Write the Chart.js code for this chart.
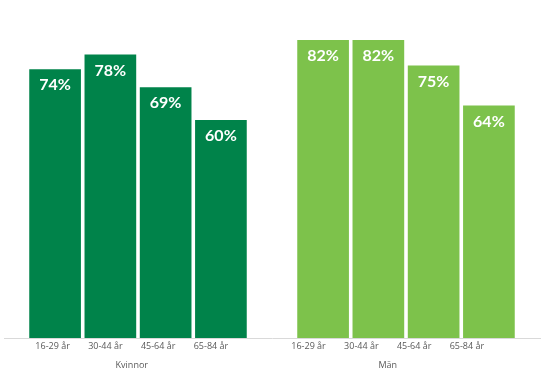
<!DOCTYPE html>
<html>
<head>
<meta charset="utf-8">
<script src="https://cdn.jsdelivr.net/npm/chart.js@4"></script>
<style>
  html, body { margin: 0; padding: 0; background: #fff; }
  #wrap { width: 546px; height: 371px; }
</style>
</head>
<body>
<div id="wrap"><canvas id="chart"></canvas></div>
<script>
// Data
const groups = ["Kvinnor", "Män"];
const ageGroups = ["16-29 år", "30-44 år", "45-64 år", "65-84 år"];
const kvinnor = [74, 78, 69, 60];
const man = [82, 82, 75, 64];

const groupColors = ["#00834A", "#7DC24B"];
// the text row under the bars sits slightly narrower than the bars themselves
const labelScale = 0.955;

const datasets = ageGroups.map((age, i) => ({
  label: age,
  data: [kvinnor[i], man[i]],
  backgroundColor: groupColors,
  borderWidth: 0,
  categoryPercentage: 0.825,
  barPercentage: 0.935
}));

// Labels drawn from the bar elements
const labelPlugin = {
  id: "labels",
  afterDatasetsDraw(chart) {
    const ctx = chart.ctx;
    const bottom = chart.chartArea.bottom;
    const groupX = groups.map(() => []);
    ctx.save();
    ctx.textAlign = "center";
    ctx.textBaseline = "middle";
    chart.data.datasets.forEach((ds, i) => {
      const meta = chart.getDatasetMeta(i);
      meta.data.forEach((bar, j) => {
        ctx.fillStyle = "#ffffff";
        ctx.font = "bold 16px Lato";
        ctx.fillText(ds.data[j] + "%", bar.x, bar.y + 16);
        const lx = bar.x * labelScale;
        groupX[j].push(lx);
        ctx.fillStyle = "#595959";
        ctx.font = "9px 'Open Sans'";
        ctx.fillText(ds.label, lx, bottom + 8);
      });
    });
    ctx.fillStyle = "#595959";
    ctx.font = "9px 'Open Sans'";
    groups.forEach((g, j) => {
      const xs = groupX[j];
      const cx = xs.reduce((a, b) => a + b, 0) / xs.length;
      ctx.fillText(g, cx, bottom + 27);
    });
    ctx.restore();
  }
};

new Chart(document.querySelector("#chart"), {
  type: "bar",
  data: { labels: groups, datasets: datasets },
  options: {
    responsive: true,
    maintainAspectRatio: false,
    animation: false,
    layout: { padding: { left: 4, right: 6, top: 11, bottom: 33 } },
    plugins: {
      legend: { display: false },
      tooltip: { enabled: false }
    },
    scales: {
      x: {
        grid: { display: false, drawTicks: false },
        border: { display: true, color: "#d9d9d9", width: 1 },
        ticks: { display: false }
      },
      y: {
        display: false,
        min: 0,
        max: 90
      }
    }
  },
  plugins: [labelPlugin]
});
</script>
</body>
</html>
